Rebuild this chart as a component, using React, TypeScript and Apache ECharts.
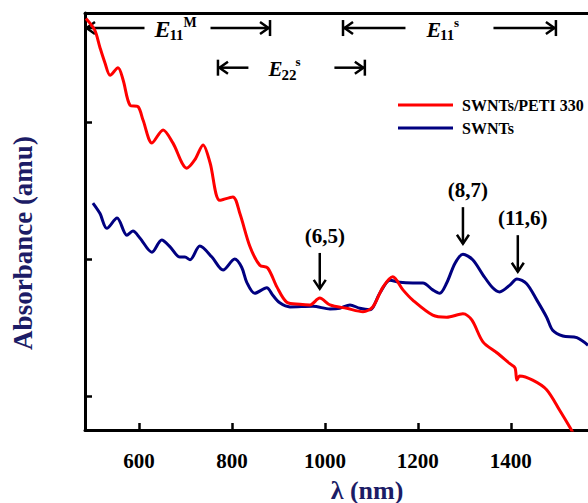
import React, { useEffect, useRef } from "react";
import * as echarts from "echarts";

// ---- data ----
const seriesNames = ["SWNTs/PETI 330", "SWNTs"];
const redWavelength = [486, 505, 516, 527, 538, 555, 566, 581, 598, 609, 628, 652, 673, 703, 720, 738, 753, 774, 802, 817, 839, 860, 877, 897, 918, 946, 968, 989, 1011, 1047, 1082, 1103, 1125, 1146, 1168, 1189, 1232, 1262, 1297, 1316, 1340, 1370, 1398, 1409, 1413, 1419, 1447, 1477, 1505, 1527, 1548];
const redAbsorbance = [0.752, 0.735, 0.71, 0.687, 0.669, 0.68, 0.662, 0.625, 0.623, 0.603, 0.57, 0.589, 0.57, 0.533, 0.545, 0.567, 0.541, 0.486, 0.491, 0.467, 0.418, 0.391, 0.387, 0.359, 0.337, 0.334, 0.333, 0.343, 0.333, 0.328, 0.323, 0.33, 0.359, 0.374, 0.355, 0.34, 0.318, 0.315, 0.32, 0.311, 0.279, 0.263, 0.247, 0.241, 0.223, 0.229, 0.223, 0.209, 0.179, 0.154, 0.128];
const blueWavelength = [501, 516, 531, 553, 574, 587, 602, 628, 649, 667, 688, 699, 710, 731, 757, 781, 806, 821, 832, 849, 875, 888, 903, 925, 974, 1011, 1032, 1054, 1075, 1097, 1118, 1140, 1161, 1189, 1211, 1232, 1247, 1262, 1280, 1297, 1318, 1340, 1361, 1376, 1398, 1413, 1434, 1456, 1477, 1490, 1512, 1542, 1566];
const blueAbsorbance = [0.482, 0.467, 0.445, 0.46, 0.435, 0.441, 0.431, 0.41, 0.428, 0.418, 0.403, 0.403, 0.399, 0.419, 0.403, 0.384, 0.4, 0.388, 0.366, 0.35, 0.358, 0.347, 0.336, 0.33, 0.331, 0.327, 0.328, 0.333, 0.328, 0.326, 0.35, 0.369, 0.366, 0.365, 0.365, 0.355, 0.35, 0.365, 0.394, 0.407, 0.399, 0.377, 0.358, 0.352, 0.362, 0.371, 0.364, 0.34, 0.315, 0.296, 0.2875, 0.285, 0.274];
const xTicks = [600, 800, 1000, 1200, 1400];
const yTicks = [0.2, 0.4, 0.6];

const peakLabels = ["(6,5)", "(8,7)", "(11,6)"];
const peakNm = [989, 1297, 1415];
const peakArrowTop = [0.409, 0.476, 0.435];
const peakArrowTip = [0.355, 0.421, 0.38];

const bandStartNm = [484, 770, 1039];
const bandEndNm = [882, 1086, 1497];
const bandLevel = [0.738, 0.68, 0.738];
const bandMain = ["E", "E", "E"];
const bandSub = ["11", "22", "11"];
const bandSup = ["M", "s", "s"];

const FONT = "Times New Roman, Liberation Serif, DejaVu Serif, serif";
const NAVY = "#1c1c66";

export default function App() {
  const ref = useRef<HTMLDivElement>(null);
  useEffect(() => {
    if (!ref.current) return;
    const chart = echarts.init(ref.current, undefined, { renderer: "svg" });
    const axisLine = { show: true, lineStyle: { color: "#000", width: 3 } };
    chart.setOption({
      animation: false,
      textStyle: { fontFamily: FONT },
      grid: { left: 85, top: 13, right: 0, bottom: 73, containLabel: false, outerBoundsMode: "none" },
      legend: {
        orient: "vertical",
        left: 393,
        top: 91,
        icon: "rect",
        itemWidth: 55,
        itemHeight: 3,
        itemGap: 5,
        data: seriesNames,
        textStyle: { fontFamily: FONT, fontWeight: "bold", fontSize: 16, color: "#000", lineHeight: 18, padding: [0, 0, 0, 4] },
      },
      xAxis: [
        {
          type: "value",
          min: 484,
          max: 1566,
          axisLine,
          splitLine: { show: false },
          axisTick: { show: true, inside: true, length: 7, customValues: xTicks, lineStyle: { color: "#000", width: 2.5 } },
          axisLabel: { customValues: xTicks, formatter: (v: number) => String(v), fontFamily: FONT, fontWeight: "bold", fontSize: 21, color: "#000", margin: 20 },
        },
        {
          type: "value",
          position: "top",
          min: 484,
          max: 1566,
          axisLine,
          splitLine: { show: false },
          axisTick: { show: false },
          axisLabel: { show: false },
        },
      ],
      yAxis: {
        type: "value",
        min: 0.15,
        max: 0.76,
        axisLine,
        splitLine: { show: false },
        axisTick: { show: true, inside: true, length: 7, customValues: yTicks, lineStyle: { color: "#000", width: 2.5 } },
        axisLabel: { show: false },
      },
      series: [
        {
          name: seriesNames[0],
          type: "line",
          showSymbol: false,
          smooth: 0.3,
          clip: true,
          color: "#ff0000",
          lineStyle: { width: 3, color: "#ff0000" },
          data: redWavelength.map((w, i) => [w, redAbsorbance[i]]),
          z: 3,
        },
        {
          name: seriesNames[1],
          type: "line",
          showSymbol: false,
          smooth: 0.3,
          clip: true,
          color: "#000080",
          lineStyle: { width: 3, color: "#000080" },
          data: blueWavelength.map((w, i) => [w, blueAbsorbance[i]]),
          z: 2,
        },
      ],
    });

    const px = (x: number, y: number) => chart.convertToPixel({ gridIndex: 0 }, [x, y]) as number[];
    const stroke = { stroke: "#000", lineWidth: 2.5, fill: "none" };
    const txt = (text: string, size: number, extra: any = {}) => ({
      text,
      fontFamily: FONT,
      fontWeight: "bold",
      fontSize: size,
      fill: "#000",
      ...extra,
    });
    const els: any[] = [];
    const gaps = [33, 43, 44];
    const leftBar = [false, true, true];
    const eSize = [24, 21, 22];
    bandStartNm.forEach((s, i) => {
      const [x1, y] = px(s, bandLevel[i]);
      const [x2] = px(bandEndNm[i], bandLevel[i]);
      const cx = (x1 + x2) / 2;
      const g = gaps[i];
      els.push({ type: "line", shape: { x1: x1 + 1, y1: y, x2: cx - g, y2: y }, style: stroke });
      els.push({ type: "line", shape: { x1: cx + g, y1: y, x2: x2, y2: y }, style: stroke });
      els.push({ type: "polyline", shape: { points: [[x1 + 10, y - 6], [x1 + 1.5, y], [x1 + 10, y + 6]] }, style: stroke });
      els.push({ type: "polyline", shape: { points: [[x2 - 10, y - 6], [x2 - 1.5, y], [x2 - 10, y + 6]] }, style: stroke });
      if (leftBar[i]) els.push({ type: "line", shape: { x1: x1, y1: y - 8, x2: x1, y2: y + 8 }, style: stroke });
      els.push({ type: "line", shape: { x1: x2, y1: y - 8, x2: x2, y2: y + 8 }, style: stroke });
      const ex = cx - 23;
      els.push({ type: "text", x: ex, y: y + 1, style: txt(bandMain[i], eSize[i], { fontStyle: "italic", verticalAlign: "middle", align: "left" }) });
      els.push({ type: "text", x: ex + eSize[i] * 0.62, y: y + 7, style: txt(bandSub[i], 15, { verticalAlign: "middle", align: "left" }) });
      els.push({ type: "text", x: ex + eSize[i] * 0.62 + 14, y: y - 6, style: txt(bandSup[i], bandSup[i] === "M" ? 14 : 13, { verticalAlign: "middle", align: "left" }) });
    });
    peakNm.forEach((n, i) => {
      const [x, yTop] = px(n, peakArrowTop[i]);
      const [, yTip] = px(n, peakArrowTip[i]);
      els.push({ type: "line", shape: { x1: x, y1: yTop, x2: x, y2: yTip - 1 }, style: stroke });
      els.push({ type: "polyline", shape: { points: [[x - 6, yTip - 10], [x, yTip - 1], [x + 6, yTip - 10]] }, style: stroke });
      els.push({ type: "text", x: x + 5, y: yTop - 17, style: txt(peakLabels[i], 21, { align: "center", verticalAlign: "middle" }) });
    });
    els.push({ type: "text", x: 367, y: 490, style: txt("λ (nm)", 26, { fill: NAVY, align: "center", verticalAlign: "middle" }) });
    els.push({ type: "text", x: 23, y: 243, rotation: Math.PI / 2, style: txt("Absorbance (amu)", 27, { fill: NAVY, align: "center", verticalAlign: "middle" }) });
    chart.setOption({ graphic: els });

    return () => chart.dispose();
  }, []);
  return (
    <div style={{ position: "fixed", left: 0, top: 0, width: 588, height: 503, overflow: "hidden", background: "#fff" }}>
      <div ref={ref} style={{ width: 588, height: 503 }} />
    </div>
  );
}
